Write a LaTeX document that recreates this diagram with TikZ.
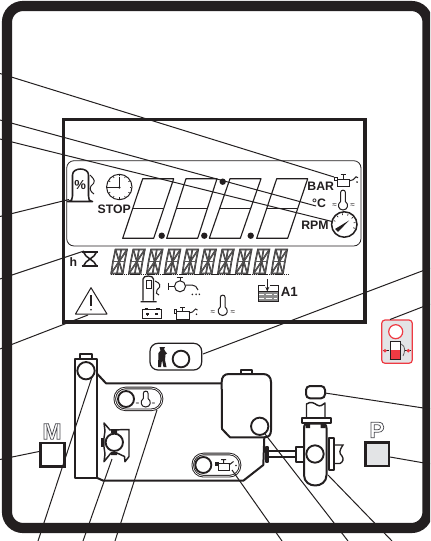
\documentclass[tikz,border=0pt]{standalone}
\usetikzlibrary{arrows.meta}
\usepackage{fontspec}
\setmainfont{Liberation Sans}
\definecolor{ink}{HTML}{231F20}
\definecolor{rd}{HTML}{EE3A43}
\definecolor{pale}{HTML}{E3E4E6}
\newcommand{\lab}[1]{{\fontsize{9.2pt}{10pt}\selectfont\bfseries #1}}
\newcommand{\outl}[1]{{\fontsize{17pt}{18pt}\selectfont\bfseries\special{pdf:code 1 Tr 0.55 w 0.3 0.3 0.32 RG}#1\special{pdf:code 0 Tr}}}
\tikzset{
 every node/.style={inner sep=0pt,outer sep=0pt,text=ink},
 leader/.style={draw=ink,line width=0.75pt},
 thin line/.style={draw=ink,line width=0.75pt},
 mid line/.style={draw=ink,line width=1.15pt,line join=round},
 heavy/.style={draw=ink,line width=1.5pt,line join=round},
 knob/.style={draw=ink,line width=1.4pt,fill=white},
 lcdseg/.style={draw=ink!90,line width=0.3pt,double=black!65,double distance=0.6pt},
 digitbox/.style={draw=ink,line width=0.85pt,line join=round},
 pill/.style={draw=ink,line width=0.7pt,rounded corners=8pt,double=white,double distance=0.5pt},
 btn/.style={draw=ink,line width=1.9pt,line join=miter}
}
\newcommand{\therm}[3]{% x, top y, bulb y
 \draw[thin line,fill=white] (#1-2.4,#3-3.5) -- (#1-2.4,#2+2.4) .. controls (#1-2.4,#2-0.6) and (#1+2.4,#2-0.6) .. (#1+2.4,#2+2.4) -- (#1+2.4,#3-3.5)
   .. controls (#1+6,#3-1) and (#1+5,#3+5) .. (#1,#3+5) .. controls (#1-5,#3+5) and (#1-6,#3-1) .. (#1-2.4,#3-3.5);}
\newcommand{\oilcan}[2]{% left-top of body x,y
 \begin{scope}[shift={(#1,#2)}]
 \draw[thin line] (0,0) rectangle (12.5,7.5);
 \draw[thin line,fill=white] (-2.5,-2) rectangle (0,1.5);
 \draw[thin line] (6,0) -- (6,-4.5) (3.5,-4.5) -- (8.5,-4.5);
 \draw[thin line] (12.5,1.5) -- (16,0.5) -- (19,-2.5) -- (21,-1.5);
 \fill[ink] (20,2.8) circle (0.9);
 \end{scope}}
\begin{document}
\begin{tikzpicture}[x=0.75pt,y=-0.75pt]
\useasboundingbox (0,0) rectangle (430,541);
\clip (0,0) rectangle (430,541);
\fill[white] (0,0) rectangle (430,541);
% free ends of the leaders
\coordinate (l1) at (0,73.5); \coordinate (e1) at (334,177);
\coordinate (l2) at (0,120); \coordinate (e2) at (316,206);
\coordinate (l3) at (0,139); \coordinate (e3) at (332,221.5);
\coordinate (l4) at (0,216.5); \coordinate (e4) at (69,199.5);
\coordinate (l5) at (0,279); \coordinate (e5) at (84,251);
\coordinate (l6) at (0,349); \coordinate (e6) at (88,315);
\coordinate (l7) at (0,459.5); \coordinate (e7) at (39,451.5);
\coordinate (b1) at (38,541); \coordinate (t1) at (92,377);
\coordinate (b2) at (83,541); \coordinate (t2) at (112,459);
\coordinate (b3) at (115,541); \coordinate (t3) at (157,410);
\coordinate (b4) at (282,541); \coordinate (t4) at (232,470);
\coordinate (b5) at (348,541); \coordinate (t5) at (265,434);
\coordinate (b6) at (392,541); \coordinate (t6) at (328,475);
\coordinate (r1) at (430,268); \coordinate (s1) at (203,354);
\coordinate (r2) at (430,304); \coordinate (s2) at (390,319.5);
\coordinate (r3) at (430,409); \coordinate (s3) at (325,393);
\coordinate (r4) at (430,464); \coordinate (s4) at (390,457);
% ---------- display ----------
\draw[draw=ink,line width=0.6pt,rounded corners=5.5pt] (66.7,160.7) rectangle (361,246);
\foreach \x/\bl in {142.7/122.7,186/166.7,230/209.3,276.7/256.7}{
  \pgfmathsetmacro{\tr}{\x+31}
  \pgfmathsetmacro{\br}{\bl+31}
  \pgfmathsetmacro{\ml}{(\x+\bl)/2}
  \pgfmathsetmacro{\mr}{(\tr+\br)/2}
  \draw[digitbox] (\x,178.7) -- (\tr,178.7) -- (\br,238.3) -- (\bl,238.3) -- cycle;
  \draw[digitbox] (\ml,208.3) -- (\mr,208.3);
}
\foreach \x/\y in {161.7/235.7,204.3/235.7,250.7/235.7,222.7/181.7}{\fill[ink] (\x,\y) circle (3.2);}
\node (bar) at (320.7,186.7) {\lab{BAR}};
\node (degc) at (319,203) {\lab{°C}};
\node (stop) at (114.3,209.3) {\lab{STOP}};
\node (rpm) at (315,225.7) {\lab{RPM}};
\node (aone) at (289.3,291.5) {{\fontsize{10pt}{11pt}\selectfont\bfseries A1}};
\node (hlab) at (73.3,262.3) {\lab{h}};
% percent pump
\draw[mid line,fill=white] (67.5,201.5) .. controls (72,201) and (72.5,199) .. (72.5,196) -- (72.5,175) .. controls (72.5,167) and (88.5,167) .. (88.5,175) -- (88.5,196) .. controls (88.5,199) and (89,201) .. (92.5,201.5) -- cycle;
\node (pct) at (80.3,185) {\fontsize{9.8pt}{10pt}\selectfont\bfseries\%};
\draw[thin line] (90,175) .. controls (95,180) and (96,182) .. (91,186) .. controls (89,189) and (91,192) .. (94,194);
% clock
\draw[thin line] (119.3,187) circle (12.7);
\foreach \a in {0,30,...,330}{\draw[draw=ink,line width=0.5pt] (119.3,187) ++(\a:10.5) -- ++(\a:1.6);}
\draw[draw=ink,line width=0.9pt] (108,187.5) -- (119.3,187.5) -- (119.3,177);
\fill[ink] (119.3,187.5) circle (1.2);
% oil can BAR
\oilcan{337}{179.3}
% therm top
\therm{343}{190}{205}
\node (wl1) at (334.5,206) {\fontsize{6pt}{6pt}\selectfont ≈};
\node (wr1) at (352.5,206) {\fontsize{6pt}{6pt}\selectfont ≈};
% gauge
\draw[mid line] (344.3,224.5) circle (12.7);
\foreach \a in {-160,-130,...,-10,20}{\draw[draw=ink,line width=0.5pt] (344.3,224.5) ++(\a:9.5) -- ++(\a:1.8);}
\fill[ink] (335,229) -- (349,220.5) -- (338,232) -- cycle;
% hourglass
\draw[mid line] (81.7,252) -- (98,252) (81.7,266) -- (98,266);
\draw[mid line] (83.5,252) .. controls (85,258) and (95,260) .. (96.5,266) (96.5,252) .. controls (95,258) and (85,260) .. (83.5,266);
% 14-segment row
\foreach \i in {0,...,9}{
 \begin{scope}[shift={(\i*17.8,0)}]
  \draw[lcdseg] (115.5,249.5) -- (127,249.5) -- (124.7,261.5) -- (122.7,273.5) -- (111.2,273.5) -- (113,261.5) -- cycle;
  \draw[lcdseg] (113,261.5) -- (124.7,261.5);
  \draw[lcdseg] (121.2,249.5) -- (117,273.5);
  \draw[lcdseg] (115.5,249.5) -- (122.7,273.5);
  \draw[lcdseg] (127,249.5) -- (111.2,273.5);
 \end{scope}}
\draw[draw=ink,line width=1pt,dash pattern=on 1.2pt off 0.4pt] (110.7,274.6) -- (288.3,274.6);
% warning
\draw[thin line,line join=round] (91,287.7) -- (107,314) -- (75.5,314) -- cycle;
\draw[draw=ink,line width=1.1pt] (91,295) -- (91,306);
\fill[ink] (91,309.7) circle (0.9);
% lower pump
\draw[thin line,line width=0.95pt] (140.5,301.7) -- (156.5,301.7) (143,300.5) -- (143,279) .. controls (143,275) and (153.5,275) .. (153.5,279) -- (153.5,300.5);
\draw[thin line] (146,280.5) rectangle (151,288.5);
\draw[thin line] (155,281) .. controls (160,283) and (162,286) .. (157,290) .. controls (155,292) and (157,295) .. (159,295);
% faucet
\draw[thin line] (168.3,282.7) -- (168.3,290) (168.3,286.3) -- (174.5,286.3) (180,280.7) -- (180,277.5) (176.7,277.5) -- (183.3,277.5);
\draw[thin line] (180,286.3) circle (5.5);
\draw[thin line] (185.5,285) -- (192,285) .. controls (195,285) and (197,287) .. (198,290);
\draw[draw=ink,line width=0.9pt,dash pattern=on 1pt off 1.4pt] (192,295) -- (193.5,292.5) (196,295) -- (196.5,292.5) (199.5,295) -- (199,292.5);
% battery
\draw[thin line] (142.5,309.8) rectangle (161.5,318.5);
\draw[draw=ink,line width=0.8pt] (144.5,308.3) -- (148,308.3) (156,308.3) -- (159.5,308.3) (146,314) -- (149,314) (147.5,312.5) -- (147.5,315.5) (155,314) -- (158,314);
% oil can low
\oilcan{176.5}{311.5}
% therm low
\therm{222.7}{295}{310.5}
\node (wl2) at (212.7,312.3) {\fontsize{6pt}{6pt}\selectfont ≈};
\node (wr2) at (232.7,312.3) {\fontsize{6pt}{6pt}\selectfont ≈};
% tank A1
\draw[thin line] (265,285.5) -- (258,285.5) -- (258,301.5) -- (278,301.5) -- (278,285.5) -- (270,285.5);
\fill[black!45] (258.5,291.5) rectangle (277.5,301);
\draw[draw=white,line width=0.5pt,dash pattern=on 4pt off 1.5pt] (259,294.5) -- (277,294.5) (259,298) -- (277,298);
\draw[draw=ink,line width=0.75pt] (258,291.5) -- (278,291.5);
\draw[thin line,-{Stealth[length=3.5pt,width=3pt]}] (267.3,279) -- (267.3,291.5);
% frame of display
\draw[draw=ink,line width=2.7pt] (63.5,119.5) rectangle (365,322);
% ---------- red panel ----------
\draw[draw=rd,line width=0.9pt,fill=pale,rounded corners=2.5pt] (381.7,320) rectangle (412.3,363.3);
\draw[draw=rd,line width=0.9pt,fill=white] (395.7,331.7) circle (7);
\draw[draw=ink,line width=0.6pt,fill=white] (390.5,341.7) rectangle (400,359);
\fill[rd] (390.8,350) rectangle (399.7,358.8);
\draw[draw=ink,line width=0.9pt] (389.5,359.3) -- (401,359.3);
\draw[draw=ink!70,line width=0.6pt] (401,344) .. controls (406,346) and (405,352) .. (403,356);
\draw[draw=ink,line width=0.5pt] (382.5,350.7) -- (388.5,350.7) (405,350.7) -- (411,350.7);
\fill[rd] (385,350.7) circle (1.9) (408.3,350.7) circle (1.9);
% ---------- operator button ----------
\draw[draw=ink,line width=0.9pt,rounded corners=6pt] (150,343.3) rectangle (201.7,370);
\fill[ink] (159.5,347) -- (165,347) -- (164,349) -- (165,351) .. controls (166,352) and (166.5,352) .. (167,353.5) -- (165.5,354.5) -- (165,360) -- (166.5,367) -- (163.5,367) -- (162,360) -- (161,367) -- (158,367) -- (158.5,353) -- (160.5,350.5) -- cycle;
\node[draw=ink,line width=1.4pt,circle,minimum size=12.5pt] (opk) at (181,359) {};
% ---------- machine ----------
\draw[heavy] (96.7,373.3) -- (106,383.3) -- (221.7,383.3);
\draw[heavy] (96.7,477.7) -- (103.3,480.7) -- (243.3,480.7) -- (263.3,465) -- (264.3,437.3);
\draw[heavy,fill=white] (80,359.3) -- (80,354) -- (92.3,354) -- (92.3,359.3);
\draw[heavy,fill=white] (75,359.3) rectangle (96.7,477.7);
\node[knob,circle,minimum size=13pt] (beltk) at (86,370.7) {};
% tank
\draw[heavy] (240.7,374) -- (240.7,370.3) -- (252,370.3) -- (252,374);
\draw[heavy,fill=white] (229,374) -- (263,374) .. controls (268,374) and (271,377) .. (271,382) -- (271,430) .. controls (271,435) and (269,437.3) .. (264,437.3) -- (230,437.3) -- (222,429) -- (221.7,382) .. controls (221.7,377) and (224,374) .. (229,374) -- cycle;
\node[knob,circle,minimum size=13pt] (tankk) at (259.7,426.3) {};
% temp pill
\draw[pill] (114.8,388) rectangle (162,409.8);
\node[knob,circle,minimum size=12pt] (tempk) at (126,399) {};
\therm{145.7}{391}{402}
\node (wl3) at (137.5,404) {\fontsize{4.5pt}{5pt}\selectfont ≈};
\node (wr3) at (153.5,404) {\fontsize{4.5pt}{5pt}\selectfont ≈};
% oil pill
\draw[pill] (192.8,454) rectangle (240,476.2);
\node[knob,circle,minimum size=12pt] (oilk) at (203.3,465) {};
\draw[thin line] (218.3,463.5) rectangle (229,470.5);
\draw[thin line,fill=ink] (215.5,462) rectangle (218.3,465);
\draw[thin line] (223.5,463.5) -- (223.5,459.5) (221,459.5) -- (226,459.5) (229,465) -- (233.5,461.5);
\fill[ink] (236,465.5) circle (0.8);
% flywheel
\draw[heavy,line width=1.1pt,fill=white] (104,423) -- (110,430) -- (129,429.5) -- (129,456.5) -- (125,461.7) -- (124.5,456.5) -- (117,453) -- (111,453) -- (104,461.7) -- (105,454) -- (104,447) -- (104,438) -- (105,431) -- cycle;
\fill[ink] (100.5,438) rectangle (103.5,447);
\fill[ink] (111,430) rectangle (117,433) (111,452) rectangle (117,455);
\node[knob,circle,minimum size=13pt] (flyk) at (114.3,442.3) {};
% pump assembly
\draw[draw=ink,line width=1.5pt,rounded corners=3pt,fill=white] (306,386) rectangle (325,398.3);
\draw[heavy,line width=1.1pt] (306.5,418.3) -- (306.5,404) .. controls (311,401) and (314,403) .. (317,405) .. controls (320,407) and (323,405) .. (325,403) -- (325,418.3);
\draw[heavy,fill=white] (301.7,418.3) rectangle (330.7,423.3);
\draw[heavy,fill=white] (304,428) .. controls (304,424) and (306,423.5) .. (309,423.5) -- (321,423.5) .. controls (324,423.5) and (326.5,424) .. (326.5,428) -- (326.5,475) .. controls (326.5,489) and (304,489) .. (304,475) -- cycle;
\fill[ink] (305.5,423.3) rectangle (310,428) (320.7,423.3) rectangle (325.5,428);
\draw[heavy] (265.5,447) rectangle (268.3,461.7);
\draw[heavy] (268.3,451.3) -- (296,451.3) (268.3,457.3) -- (296,457.3);
\draw[heavy,fill=white] (296,446.7) rectangle (304,461.7);
\node[knob,circle,minimum size=13pt] (pumpk) at (315,454) {};
\draw[heavy,fill=white] (329.3,438.3) rectangle (334.3,470);
\draw[draw=ink,line width=1pt] (334.3,445) -- (343,445) .. controls (339,451) and (339,453) .. (342,456) .. controls (344,459) and (343,462) .. (340,463.5) -- (334.3,463.5);
% start/stop buttons
\draw[btn,fill=white] (40.5,443) rectangle (64.3,466.5);
\draw[btn,fill=pale] (365.5,442.7) rectangle (389,466);
\node (mlab) at (52,431.5) {\outl{M}};
\node (plab) at (377,430) {\outl{P}};
% ---------- leaders ----------
\foreach \a/\b in {l1/e1,l2/e2,l3/e3,l4/e4,l5/e5,l6/e6,l7/e7,b1/t1,b2/t2,b3/t3,b4/t4,b5/t5,b6/t6,r1/s1,r2/s2,r3/s3,r4/s4}{\draw[leader] (\a) -- (\b);}
% outer frame
\draw[draw=ink,line width=7.6pt,rounded corners=12pt] (7,6) rectangle (427.5,528);
\end{tikzpicture}
\end{document}
